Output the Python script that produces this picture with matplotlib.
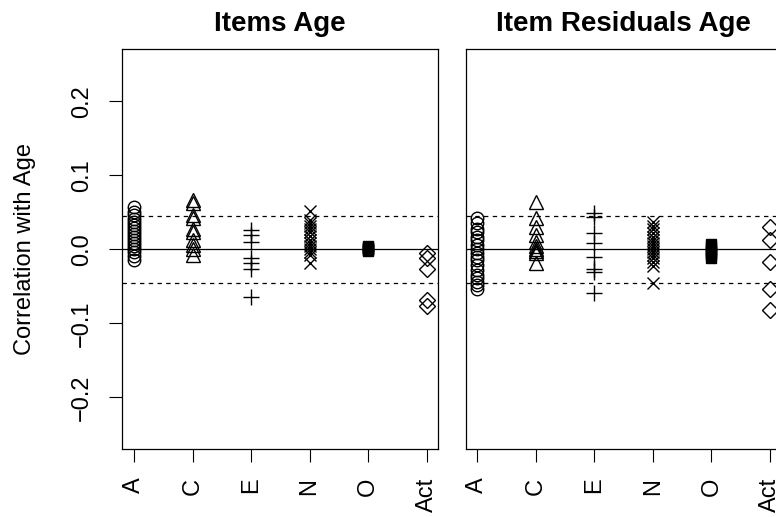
import matplotlib
matplotlib.use("Agg")
import matplotlib.pyplot as plt

plt.rcParams['font.family'] = ['Liberation Sans', 'DejaVu Sans']

categories = ["A", "C", "E", "N", "O", "Act"]

# correlations, left panel (items)
items_A = [0.057, 0.050, 0.046, 0.041, 0.037, 0.033, 0.029, 0.025, 0.021,
           0.017, 0.013, 0.009, 0.005, 0.001, -0.004, -0.009, -0.014]
items_C = [0.067, 0.063, 0.046, 0.042, 0.028, 0.024, 0.013, 0.006, 0.000, -0.008]
items_E = [0.026, 0.019, 0.010, -0.012, -0.019, -0.026, -0.064]
items_N = [0.052, 0.040, 0.036, 0.031, 0.027, 0.023, 0.018, 0.012, 0.008,
           0.004, 0.000, -0.003, -0.008, -0.019]
items_O = [0.005, 0.003, 0.002, 0.001, 0.000, -0.001, -0.002]
items_Act = [-0.005, -0.012, -0.026, -0.068, -0.077]

# right panel (item residuals)
resid_A = [0.042, 0.035, 0.028, 0.024, 0.017, 0.013, 0.006, 0.001, -0.005,
           -0.010, -0.014, -0.021, -0.028, -0.035, -0.039, -0.044, -0.048, -0.053]
resid_C = [0.064, 0.042, 0.030, 0.019, 0.010, 0.004, 0.001, -0.002, -0.005, -0.019]
resid_E = [0.049, 0.044, 0.022, 0.008, -0.010, -0.026, -0.030, -0.059]
resid_N = [0.037, 0.032, 0.027, 0.022, 0.017, 0.012, 0.008, 0.004, 0.000,
           -0.004, -0.008, -0.012, -0.017, -0.023, -0.046]
resid_O = [0.007, 0.004, 0.001, -0.002, -0.005, -0.008, -0.012]
resid_Act = [0.030, 0.013, -0.017, -0.053, -0.082]

crit = 0.045

markers = [("o", 9, "none"), ("^", 10.5, "none"), ("+", 11, "none"),
           ("x", 8, "none"), ("s", 7.5, "black"), ("D", 8, "none")]

fig = plt.figure(figsize=(7.76, 5.17), dpi=100)

W = 316 / 776
H = 400 / 517
B = 1 - 449.3 / 517
ax1 = fig.add_axes([122.3 / 776, B, W, H])
ax2 = fig.add_axes([465.7 / 776, B, W, H])


def panel(ax, groups, title, ylab):
    for i, vals in enumerate(groups):
        m, ms, fc = markers[i]
        ax.plot([i + 1] * len(vals), vals, linestyle="none", marker=m,
                markersize=ms, markerfacecolor=fc, markeredgecolor="black",
                markeredgewidth=1.0, clip_on=False, zorder=3)
    ax.axhline(0, color="black", lw=0.9, zorder=2)
    ax.axhline(crit, color="black", lw=0.9, ls=(0, (3.5, 3.5)), zorder=2)
    ax.axhline(-crit, color="black", lw=0.9, ls=(0, (3.5, 3.5)), zorder=2)
    ax.set_xlim(0.8, 6.2)
    ax.set_ylim(-0.27, 0.27)
    ax.set_xticks(range(1, 7))
    ax.set_xticklabels(categories, rotation=90, fontsize=17, va="top", ha="center")
    ax.tick_params(axis="x", direction="out", length=9.4, width=0.8, pad=11)
    for s in ax.spines.values():
        s.set_linewidth(0.9)
    ax.set_title(title, fontsize=20, fontweight="bold", pad=13)
    if ylab:
        ax.set_yticks([-0.2, -0.1, 0.0, 0.1, 0.2])
        ax.set_yticklabels(["\u22120.2", "\u22120.1", "0.0", "0.1", "0.2"],
                           rotation=90, fontsize=17, va="center")
        ax.tick_params(axis="y", direction="out", length=9.4, width=0.8, pad=11.5)
    else:
        ax.set_yticks([])


panel(ax1, [items_A, items_C, items_E, items_N, items_O, items_Act], "Items Age", True)
panel(ax2, [resid_A, resid_C, resid_E, resid_N, resid_O, resid_Act], "Item Residuals Age", False)

fig.text(25 / 776, 1 - 249.3 / 517, "Correlation with Age", rotation=90,
         fontsize=17, ha="center", va="center")

fig.savefig("out.png", dpi=100)
